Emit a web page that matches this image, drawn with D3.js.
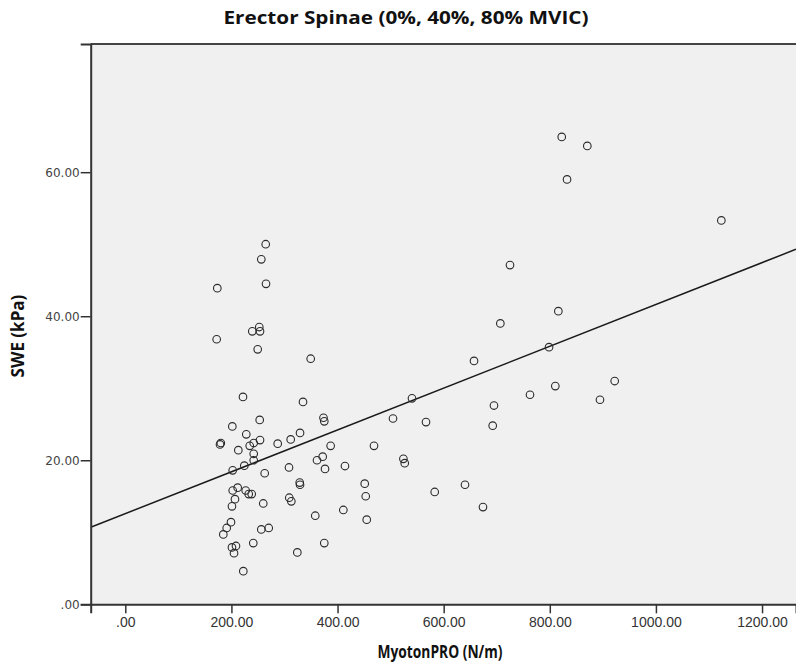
<!DOCTYPE html>
<html>
<head>
<meta charset="utf-8">
<script src="https://cdn.jsdelivr.net/npm/d3@7"></script>
<style>
  html, body { margin: 0; padding: 0; background: #ffffff; }
  svg { display: block; }
</style>
</head>
<body>
<svg id="chart" width="796" height="666"></svg>
<script>
// ---- data ----
const myotonPRO = [
  264.6, 256.3, 265.2, 173.4, 172.2, 252.5, 239.3, 253.9, 249.5, 349.4,
  221.8, 334.9, 373.5, 375.0, 201.7, 253.3, 228.0, 329.3, 311.7, 287.2,
  253.9, 242.0, 234.5, 180.0, 178.5, 387.0, 213.0, 242.0, 372.0, 361.3,
  376.4, 414.0, 242.0, 224.3, 202.4, 308.5, 262.7, 328.7, 329.3, 211.8,
  202.4, 226.9, 232.6, 238.2, 206.7, 309.0, 312.9, 260.0, 201.0, 410.9,
  358.0, 199.2, 191.1, 184.7, 270.3, 256.3, 375.0, 241.2, 208.6, 201.0,
  204.9, 324.2, 222.4, 657.2, 798.6, 540.3, 504.5, 566.7, 694.8, 692.4,
  762.7, 810.4, 894.6, 468.7, 524.1, 526.6, 451.2, 453.1, 455.0, 583.1,
  640.2, 674.1, 822.5, 870.7, 832.5, 1123.3, 725.0, 816.1, 706.8, 922.3
];
const swe = [
  50.0, 47.9, 44.5, 43.9, 36.8, 38.5, 37.9, 37.9, 35.4, 34.1,
  28.8, 28.1, 25.9, 25.4, 24.7, 25.6, 23.6, 23.8, 22.9, 22.3,
  22.8, 22.4, 22.0, 22.4, 22.2, 22.0, 21.4, 20.9, 20.5, 20.0,
  18.8, 19.2, 20.0, 19.25, 18.6, 19.0, 18.2, 16.9, 16.6, 16.2,
  15.8, 15.8, 15.3, 15.3, 14.6, 14.8, 14.3, 14.0, 13.6, 13.1,
  12.3, 11.4, 10.6, 9.7, 10.6, 10.4, 8.5, 8.5, 8.1, 7.9,
  7.1, 7.2, 4.6, 33.8, 35.7, 28.6, 25.8, 25.3, 27.6, 24.8,
  29.1, 30.3, 28.4, 22.0, 20.2, 19.6, 16.75, 15.0, 11.75, 15.6,
  16.6, 13.5, 64.9, 63.65, 59.0, 53.3, 47.1, 40.7, 39.0, 31.0
];
const xTicks = [0, 200, 400, 600, 800, 1000, 1200];
const yTicks = [0, 20, 40, 60];
const xDomain = [-65.2, 1264];
const yDomain = [0, 77.8];
const fitIntercept = 12.59;   // fit line
const fitSlope = 0.02904;
const titleText = "Erector Spinae (0%, 40%, 80% MVIC)";
const xTitle = "MyotonPRO (N/m)";
const yTitle = "SWE (kPa)";

// ---- layout ----
const svg = d3.select("#chart");
const pL = 90.7, pR = 796, pT = 44, pB = 604.3;

const x = d3.scaleLinear().domain(xDomain).range([pL, pR]);
const y = d3.scaleLinear().domain(yDomain).range([pB, pT]);

svg.append("defs").append("clipPath").attr("id", "plotclip")
  .append("rect").attr("x", pL).attr("y", pT)
  .attr("width", pR - pL).attr("height", pB - pT);

// plot background
svg.append("rect")
  .attr("x", pL).attr("y", pT)
  .attr("width", pR - pL).attr("height", pB - pT)
  .attr("fill", "#f0f0f0");

// fit line
const g = svg.append("g").attr("clip-path", "url(#plotclip)");
g.append("line")
  .attr("x1", x(xDomain[0])).attr("y1", y(fitIntercept + fitSlope * xDomain[0]))
  .attr("x2", x(xDomain[1])).attr("y2", y(fitIntercept + fitSlope * xDomain[1]))
  .attr("stroke", "#1a1a1a").attr("stroke-width", 1.5);

// points
const pts = myotonPRO.map((v, i) => ({ x: v, y: swe[i] }));
g.selectAll("circle.pt").data(pts).enter().append("circle")
  .attr("class", "pt")
  .attr("cx", d => x(d.x)).attr("cy", d => y(d.y))
  .attr("r", 3.8)
  .attr("fill", "none").attr("stroke", "#2a2a2a").attr("stroke-width", 1.1);

// top border
svg.append("line").attr("x1", pL).attr("x2", pR)
  .attr("y1", pT).attr("y2", pT)
  .attr("stroke", "#444").attr("stroke-width", 2);

// x axis
const fmt = v => v === 0 ? ".00" : d3.format(".2f")(v);
const xAxis = d3.axisBottom(x).tickValues(xTicks).tickFormat(fmt).tickSize(9).tickPadding(4);
const gx = svg.append("g").attr("transform", `translate(0,${pB})`).call(xAxis);
gx.select(".domain").attr("stroke", "#333").attr("stroke-width", 2);
gx.selectAll(".tick line").attr("stroke", "#333").attr("stroke-width", 1.5);
gx.selectAll(".tick text")
  .attr("font-family", "Liberation Sans, Arial, sans-serif")
  .attr("font-size", 14).attr("fill", "#333");

// y axis
const yAxis = d3.axisLeft(y).tickValues(yTicks).tickFormat(fmt).tickSize(10).tickPadding(1);
const gy = svg.append("g").attr("transform", `translate(${pL},0)`).call(yAxis);
gy.select(".domain").attr("stroke", "#333").attr("stroke-width", 2);
gy.selectAll(".tick line").attr("stroke", "#333").attr("stroke-width", 1.5);
gy.selectAll(".tick text")
  .attr("font-family", "DejaVu Sans, Verdana, sans-serif")
  .attr("font-size", 12).attr("fill", "#444");

// titles
svg.append("text")
  .attr("x", 406).attr("y", 24)
  .attr("text-anchor", "middle")
  .attr("font-family", "Open Sans, sans-serif")
  .attr("font-weight", 700).attr("font-size", 17).attr("fill", "#111")
  .attr("textLength", 365).attr("lengthAdjust", "spacingAndGlyphs")
  .text(titleText);

svg.append("text")
  .attr("x", 440).attr("y", 658)
  .attr("text-anchor", "middle")
  .attr("font-family", "Open Sans, sans-serif")
  .attr("font-weight", 700).attr("font-size", 17).attr("fill", "#111")
  .attr("textLength", 125).attr("lengthAdjust", "spacingAndGlyphs")
  .text(xTitle);

svg.append("text")
  .attr("transform", `translate(24,336) rotate(-90)`)
  .attr("text-anchor", "middle")
  .attr("font-family", "Open Sans, sans-serif")
  .attr("font-weight", 700).attr("font-size", 17).attr("fill", "#111")
  .text(yTitle);
</script>
</body>
</html>
